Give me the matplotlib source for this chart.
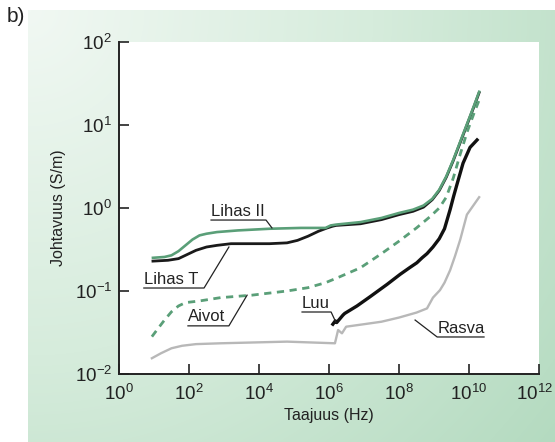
import numpy as np
import matplotlib
matplotlib.use("Agg")
import matplotlib.pyplot as plt
import matplotlib.transforms as mtransforms
from matplotlib.colors import LinearSegmentedColormap

plt.rcParams['font.family'] = ['Liberation Sans', 'DejaVu Sans']
plt.rcParams['font.size'] = 11.5
plt.rcParams['axes.unicode_minus'] = False

## Data (log10 of frequency in Hz, log10 of conductivity in S/m)
lihas2_logf = [0.97, 1.3, 1.5, 1.7, 1.9, 2.1, 2.3, 2.5, 2.8, 3.4, 4.3, 5.2, 5.9, 6.05, 6.2,
               6.9, 7.5, 8.0, 8.4, 8.7, 8.95, 9.15, 9.35, 9.55, 9.75, 9.95, 10.15, 10.29]
lihas2_logs = [-0.60, -0.59, -0.57, -0.52, -0.45, -0.38, -0.33, -0.31, -0.29, -0.27, -0.25,
               -0.24, -0.24, -0.21, -0.20, -0.17, -0.12, -0.06, -0.02, 0.03, 0.11, 0.22,
               0.38, 0.58, 0.80, 1.02, 1.24, 1.40]

lihast_logf = [0.97, 1.4, 1.7, 1.95, 2.2, 2.5, 2.8, 3.2, 4.3, 4.8, 5.1, 5.4, 5.7, 5.95, 6.1,
               6.2, 6.9, 7.5, 8.0, 8.4, 8.7, 8.95, 9.15, 9.35, 9.55, 9.75, 9.95, 10.15, 10.29]
lihast_logs = [-0.64, -0.63, -0.61, -0.56, -0.51, -0.47, -0.45, -0.43, -0.43, -0.42, -0.39,
               -0.34, -0.28, -0.24, -0.22, -0.21, -0.19, -0.14, -0.08, -0.04, 0.01, 0.10,
               0.21, 0.37, 0.57, 0.79, 1.01, 1.23, 1.39]

aivot_logf = [0.94, 1.1, 1.3, 1.5, 1.7, 1.9, 2.3, 2.9, 3.8, 4.8, 5.4, 5.9, 6.3, 6.9, 7.5,
              8.0, 8.5, 8.9, 9.15, 9.35, 9.55, 9.75, 9.95, 10.15, 10.29]
aivot_logs = [-1.55, -1.46, -1.35, -1.25, -1.18, -1.14, -1.12, -1.08, -1.05, -1.0, -0.96,
              -0.90, -0.83, -0.72, -0.55, -0.40, -0.24, -0.10, 0.0, 0.13, 0.36, 0.65, 0.92,
              1.15, 1.30]

luu_logf = [6.11, 6.18, 6.22, 6.4, 6.45, 6.8, 7.17, 7.66, 8.03, 8.3, 8.51, 8.66, 8.8, 8.97,
            9.15, 9.3, 9.46, 9.56, 9.66, 9.83, 10.03, 10.23]
luu_logs = [-1.40, -1.36, -1.38, -1.29, -1.27, -1.18, -1.07, -0.92, -0.80, -0.72, -0.66,
            -0.60, -0.55, -0.47, -0.37, -0.25, -0.02, 0.14, 0.29, 0.54, 0.73, 0.82]

rasva_logf = [0.94, 1.2, 1.5, 1.8, 2.2, 2.9, 4.8, 6.17, 6.26, 6.37, 6.49, 7.0, 7.5, 8.0,
              8.5, 8.8, 8.97, 9.17, 9.3, 9.46, 9.6, 9.75, 9.94, 10.09, 10.29]
rasva_logs = [-1.81, -1.75, -1.69, -1.66, -1.64, -1.63, -1.61, -1.63, -1.47, -1.51, -1.43,
              -1.40, -1.37, -1.32, -1.26, -1.21, -1.08, -0.99, -0.90, -0.75, -0.58, -0.38,
              -0.08, 0.01, 0.13]

# label text, text/underline start (logf, logs), underline end logf, pointer end (logf, logs)
labels = ['Lihas II', 'Lihas T', 'Aivot', 'Luu', 'Rasva']
label_start = [(2.63, -0.145), (0.71, -0.964), (1.97, -1.42), (5.23, -1.253), (9.09, -1.554)]
label_end_f = [4.2, 2.43, 3.14, 6.06, 10.43]
label_point = [(4.37, -0.24), (3.14, -0.47), (3.66, -1.05), (6.2, -1.38), (8.46, -1.35)]
label_from_left = [False, False, False, False, True]

green = '#5a9f78'
W, H = 555, 442
fig = plt.figure(figsize=(W / 100, H / 100), dpi=100)

## green background panel with a soft radial gradient
bg = fig.add_axes([28 / W, 0, 1 - 28 / W, 1 - 10 / H])
yy, xx = np.mgrid[0:432, 0:527]
t = np.clip(np.hypot(xx, yy) / 690.0, 0, 1)
cmap = LinearSegmentedColormap.from_list('bg', ['#f1f8f3', '#d6ecdc', '#b3dabf'])
bg.imshow(t, cmap=cmap, aspect='auto', vmin=0, vmax=1, interpolation='bilinear')
bg.axis('off')

ax = fig.add_axes([119 / W, 1 - 374 / H, (539 - 119) / W, (374 - 42) / H])
ax.set_facecolor('white')

ax.plot(10 ** np.array(lihast_logf), 10 ** np.array(lihast_logs), color='#1a1a1a', lw=2.0)
ax.plot(10 ** np.array(lihas2_logf), 10 ** np.array(lihas2_logs), color=green, lw=1.9)
ax.plot(10 ** np.array(aivot_logf), 10 ** np.array(aivot_logs), color=green, lw=2.0,
        dashes=(2.6, 2.0))
ax.plot(10 ** np.array(rasva_logf), 10 ** np.array(rasva_logs), color='#b8b8b8', lw=1.7)
ax.plot(10 ** np.array(luu_logf), 10 ** np.array(luu_logs), color='#111111', lw=2.4)

## labels with leader lines
for txt, (sf, ss), ef, (pf, ps), left in zip(labels, label_start, label_end_f, label_point,
                                             label_from_left):
    if left:
        ax.plot(10 ** np.array([pf, sf, ef]), 10 ** np.array([ps, ss, ss]), color='#222222', lw=0.9)
    else:
        ax.plot(10 ** np.array([sf, ef, pf]), 10 ** np.array([ss, ss, ps]), color='#222222', lw=0.9)
    ax.annotate(txt, (10 ** sf, 10 ** ss), xytext=(0, 1), textcoords='offset points',
                ha='left', va='bottom', color='#222222', fontsize=12)

ax.set_xscale('log'); ax.set_yscale('log')
ax.set_xlim(1, 1e12); ax.set_ylim(1e-2, 1e2)
ax.set_xticks([10.0 ** k for k in range(0, 13, 2)])
ax.set_yticks([10.0 ** k for k in range(-2, 3)])
ax.minorticks_off()
ax.tick_params(direction='in', length=7, width=1.2, color='#222222', labelcolor='#222222',
               labelsize=13.5, pad=5)
ax.tick_params(axis='x', pad=7)
for s in ['top', 'right']:
    ax.spines[s].set_visible(False)
for s in ['left', 'bottom']:
    ax.spines[s].set_linewidth(1.4); ax.spines[s].set_color('#222222')
ax.set_xlabel('Taajuus (Hz)', color='#222222', labelpad=3)
ax.set_ylabel('Johtavuus (S/m)', color='#222222', labelpad=6)

# the last x tick label sits on the figure edge, nudge it in a bit
last = ax.get_xticklabels()[-1]
last.set_transform(last.get_transform() + mtransforms.ScaledTranslation(-5 / 100, 0, fig.dpi_scale_trans))

fig.text(7 / W, 1 - 16 / H, 'b)', fontsize=15, va='center', ha='left', color='#222222')

fig.savefig('out.png', dpi=100)
